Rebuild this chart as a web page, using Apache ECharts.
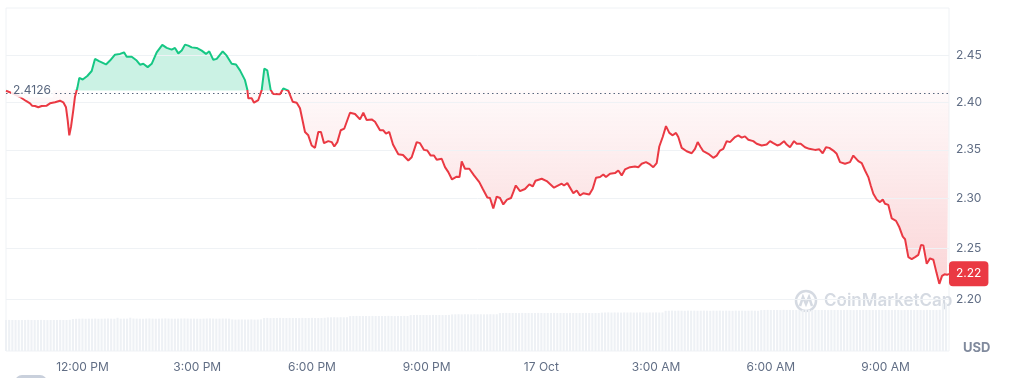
<!DOCTYPE html>
<html><head><meta charset="utf-8">
<script src="https://cdn.jsdelivr.net/npm/echarts@6.0.0/dist/echarts.min.js"></script>
<style>html,body{margin:0;padding:0;background:#fff}#c{width:1010px;height:378px}</style>
</head><body><div id="c"></div>
<script>
// ---- data ----
const xTickHours = [12, 15, 18, 21, 24, 27, 30, 33];
const xTickLabels = ['12:00 PM', '3:00 PM', '6:00 PM', '9:00 PM', '17 Oct', '3:00 AM', '6:00 AM', '9:00 AM'];
const yTicks = [2.20, 2.25, 2.30, 2.35, 2.40, 2.45];
const basePrice = 2.4126;
// hours since 16 Oct 00:00
const priceTimes = [10.000,10.157,10.366,10.523,10.628,10.680,10.758,10.845,10.934,11.064,11.151,11.281,11.412,11.498,11.569,11.613,11.655,11.700,11.760,11.804,11.865,11.917,12.006,12.126,12.241,12.327,12.432,12.615,12.720,12.850,12.981,13.086,13.156,13.287,13.418,13.504,13.590,13.705,13.810,13.941,14.087,14.202,14.333,14.419,14.506,14.595,14.681,14.767,14.856,14.987,15.118,15.230,15.316,15.421,15.510,15.667,15.771,15.902,16.015,16.119,16.250,16.310,16.336,16.425,16.485,16.598,16.687,16.755,16.833,16.922,16.990,17.165,17.252,17.382,17.497,17.602,17.688,17.819,17.905,17.994,18.080,18.167,18.237,18.316,18.428,18.517,18.585,18.664,18.753,18.847,18.996,19.127,19.257,19.344,19.432,19.563,19.650,19.780,19.867,19.937,20.023,20.120,20.259,20.382,20.520,20.609,20.740,20.826,20.931,21.017,21.106,21.192,21.263,21.394,21.480,21.567,21.663,21.786,21.859,21.917,22.003,22.116,22.239,22.377,22.466,22.587,22.657,22.743,22.832,22.919,23.005,23.102,23.206,23.266,23.332,23.442,23.572,23.685,23.774,23.847,24.009,24.140,24.331,24.443,24.532,24.592,24.679,24.836,24.925,25.010,25.097,25.254,25.343,25.429,25.534,25.620,25.690,25.795,25.926,26.012,26.101,26.187,26.318,26.449,26.535,26.624,26.736,26.841,26.927,27.016,27.084,27.173,27.259,27.346,27.434,27.521,27.581,27.670,27.800,27.931,28.018,28.088,28.167,28.235,28.366,28.496,28.585,28.672,28.758,28.847,28.933,29.064,29.150,29.239,29.325,29.412,29.542,29.631,29.762,29.893,29.979,30.065,30.170,30.241,30.345,30.416,30.502,30.607,30.677,30.782,30.894,31.007,31.156,31.268,31.357,31.443,31.530,31.634,31.723,31.810,31.941,32.071,32.158,32.289,32.378,32.464,32.550,32.613,32.681,32.770,32.856,32.927,32.987,33.074,33.163,33.275,33.362,33.451,33.511,33.597,33.686,33.772,33.859,33.929,33.989,34.078,34.164,34.251,34.334,34.407,34.478,34.543,34.609,34.660];
const prices = [2.4123,2.4098,2.4056,2.4014,2.3989,2.3964,2.3961,2.3947,2.3961,2.3964,2.3989,2.4000,2.4017,2.4000,2.3947,2.3812,2.3652,2.3740,2.3918,2.4059,2.4151,2.4260,2.4243,2.4281,2.4334,2.4465,2.4440,2.4405,2.4447,2.4511,2.4519,2.4536,2.4489,2.4489,2.4447,2.4402,2.4412,2.4376,2.4412,2.4536,2.4617,2.4584,2.4565,2.4584,2.4525,2.4555,2.4620,2.4609,2.4590,2.4584,2.4555,2.4519,2.4547,2.4455,2.4465,2.4547,2.4500,2.4412,2.4405,2.4341,2.4236,2.4137,2.4042,2.4042,2.3996,2.4024,2.4130,2.4359,2.4341,2.4130,2.4088,2.4085,2.4148,2.4123,2.4006,2.3996,2.3936,2.3687,2.3652,2.3546,2.3521,2.3687,2.3687,2.3570,2.3591,2.3581,2.3535,2.3581,2.3705,2.3723,2.3889,2.3876,2.3819,2.3889,2.3812,2.3819,2.3794,2.3705,2.3705,2.3670,2.3687,2.3556,2.3455,2.3447,2.3390,2.3424,2.3581,2.3570,2.3500,2.3493,2.3441,2.3441,2.3397,2.3408,2.3321,2.3270,2.3195,2.3223,2.3219,2.3380,2.3305,2.3305,2.3236,2.3167,2.3099,2.3010,2.3005,2.2898,2.3020,2.3005,2.2940,2.2988,2.3005,2.3065,2.3133,2.3075,2.3097,2.3144,2.3123,2.3182,2.3202,2.3178,2.3110,2.3133,2.3151,2.3133,2.3157,2.3054,2.3082,2.3031,2.3054,2.3041,2.3099,2.3212,2.3219,2.3246,2.3219,2.3254,2.3260,2.3287,2.3236,2.3298,2.3321,2.3328,2.3321,2.3356,2.3373,2.3349,2.3321,2.3362,2.3535,2.3634,2.3748,2.3677,2.3652,2.3677,2.3634,2.3521,2.3486,2.3465,2.3511,2.3581,2.3528,2.3486,2.3459,2.3418,2.3441,2.3493,2.3511,2.3591,2.3581,2.3634,2.3652,2.3628,2.3641,2.3606,2.3591,2.3564,2.3546,2.3556,2.3591,2.3570,2.3546,2.3556,2.3591,2.3556,2.3528,2.3591,2.3564,2.3564,2.3528,2.3511,2.3500,2.3506,2.3465,2.3528,2.3521,2.3493,2.3459,2.3373,2.3356,2.3373,2.3441,2.3383,2.3362,2.3287,2.3219,2.3133,2.3048,2.2990,2.2963,2.2990,2.2947,2.2935,2.2798,2.2774,2.2709,2.2615,2.2589,2.2411,2.2392,2.2411,2.2434,2.2533,2.2528,2.2345,2.2399,2.2385,2.2256,2.2148,2.2227,2.2242,2.2237,2.2247];
const volStartHour = 10;
const volStepHours = 5 / 60;
const volumes = [620,622,621,619,618,620,621,623,620,619,620,622,620,618,621,621,620,622,620,619,624,
640,644,646,648,645,647,646,649,645,646,648,650,647,645,664,646,648,647,666,650,648,646,645,649,651,648,646,647,650,652,649,647,646,648,650,651,649,647,648,646,645,648,650,652,649,647,648,650,649,647,
632,628,630,631,629,630,632,628,630,633,
660,662,658,661,660,663,659,660,662,661,660,658,662,661,660,663,660,659,661,664,
672,674,675,673,676,674,675,
698,700,702,699,701,700,698,702,700,701,699,700,703,700,698,701,700,702,699,
718,720,722,719,721,720,718,722,720,721,719,720,722,
732,734,736,733,735,734,732,736,734,735,733,734,736,734,735,
758,760,762,759,761,760,758,762,760,761,759,760,762,760,758,761,760,762,759,761,760,758,762,760,761,759,760,762,760,758,761,760,
768,770,772,769,771,770,768,772,770,771,769,770,772,770,768,771,770,772,769,771,
804,806,808,805,807,806,804,808,806,807,805,806,808,806,804,807,806,808,805,807,806,804,808,806,807,805,806,808,806,804,
818,820,822,819,821,820,818,822,820,821,819,820,822,820,818,821,820,822,819,821,820,818,822,820,821,819,820,822,820,818,821,820,822,819,821,820,818,822,820,821,819,820,822,820,818,821,820,822,819,821,820,818,822,820,821,819,824,
950,965];

// ---- chart ----
const red = '#ea3943', green = '#16c784';
const font = 'Inter, "Noto Sans", sans-serif';
const priceData = priceTimes.map((t, i) => [t, prices[i]]);
const upData = priceTimes.map((t, i) => [t, Math.max(prices[i], basePrice)]);
const downData = priceTimes.map((t, i) => [t, Math.min(prices[i], basePrice)]);
const volData = volumes.map((v, i) => [volStartHour + i * volStepHours, v]);
const lastPrice = prices[prices.length - 1];
const xMin = 10, xMax = 34.66;
const yMin = 2.15, yMax = 2.5022;

const logAxis = {
  type: 'log', logBase: 10, gridIndex: 0, min: yMin, max: yMax,
  axisLine: { show: false }, axisTick: { show: false },
  splitLine: { show: false }, minorTick: { show: false }, minorSplitLine: { show: false }
};

const chart = echarts.init(document.getElementById('c'));
chart.setOption({
  animation: false,
  grid: [
    { left: 6, right: 61, top: 8, bottom: 27, show: true, borderColor: '#eff2f5', borderWidth: 1 },
    { left: 6, right: 61, top: 251, bottom: 27 }
  ],
  xAxis: [
    { type: 'value', gridIndex: 0, min: xMin, max: xMax, show: false },
    { type: 'value', gridIndex: 1, min: xMin, max: xMax,
      axisLine: { show: false }, axisTick: { show: false }, splitLine: { show: false },
      axisLabel: {
        customValues: xTickHours,
        formatter: v => { const k = xTickHours.findIndex(h => Math.abs(h - v) < 1e-6); return k >= 0 ? xTickLabels[k] : ''; },
        color: '#616e85', fontSize: 12, fontFamily: font, margin: 10
      } }
  ],
  yAxis: [
    Object.assign({}, logAxis, { position: 'right',
      axisLabel: { customValues: yTicks, formatter: v => Number(v).toFixed(2), color: '#616e85', fontSize: 12, fontFamily: font, margin: 7 } }),
    Object.assign({}, logAxis, { position: 'right', z: 10,
      axisLabel: { customValues: [lastPrice], formatter: v => Number(v).toFixed(2), color: '#fff', backgroundColor: red,
        borderRadius: 4, padding: [7, 7, 6, 7], fontSize: 12, fontFamily: font, margin: 0 } }),
    Object.assign({}, logAxis, { position: 'left', z: 10,
      axisLabel: { inside: true, customValues: [basePrice], formatter: v => Number(v).toFixed(4), color: '#58667e',
        backgroundColor: 'rgba(255,255,255,0.85)', padding: [1, 2], fontSize: 12, fontFamily: font, margin: 5 } }),
    { type: 'value', gridIndex: 1, min: 0, max: 2000, show: false }
  ],
  visualMap: {
    type: 'piecewise', show: false, seriesIndex: 3, dimension: 1,
    pieces: [{ gt: basePrice, lte: 3, color: green }, { gte: 2, lte: basePrice, color: red }],
    outOfRange: { color: red }
  },
  series: [
    { type: 'bar', xAxisIndex: 1, yAxisIndex: 3, data: volData, barWidth: 2.1, silent: true,
      itemStyle: { color: '#eef1f5' } },
    { type: 'line', xAxisIndex: 0, yAxisIndex: 0, data: upData, symbol: 'none', showSymbol: false, silent: true,
      lineStyle: { width: 0 }, areaStyle: { origin: basePrice, color: 'rgba(22,199,132,0.32)' },
      markLine: { silent: true, symbol: ['none', 'none'], label: { show: false },
        lineStyle: { color: '#eff2f5', width: 1, type: 'solid' }, data: yTicks.map(v => ({ yAxis: v })) } },
    { type: 'line', xAxisIndex: 0, yAxisIndex: 0, data: downData, symbol: 'none', showSymbol: false, silent: true,
      lineStyle: { width: 0 },
      areaStyle: { origin: basePrice, color: { type: 'linear', x: 0, y: 0, x2: 0, y2: 1,
        colorStops: [{ offset: 0, color: 'rgba(234,57,67,0.04)' }, { offset: 1, color: 'rgba(234,57,67,0.30)' }] } } },
    { type: 'line', xAxisIndex: 0, yAxisIndex: 0, data: priceData, symbol: 'none', showSymbol: false, z: 5,
      lineStyle: { width: 2 },
      markLine: { silent: true, symbol: ['none', 'none'], label: { show: false },
        lineStyle: { color: '#58667e', width: 1, type: [1.5, 3] }, data: [{ yAxis: basePrice }] } }
  ],
  graphic: [
    { type: 'circle', shape: { cx: 806, cy: 301, r: 10 }, style: { fill: 'none', stroke: '#d5dae2', lineWidth: 2.5 }, silent: true },
    { type: 'polyline', shape: { points: [[800, 306], [803, 297], [806, 304], [809, 297], [812, 306]] },
      style: { fill: 'none', stroke: '#d5dae2', lineWidth: 2.5 }, silent: true },
    { type: 'text', x: 824, y: 301, silent: true,
      style: { text: 'CoinMarketCap', font: '600 17px Inter, sans-serif', fill: '#d5dae2', verticalAlign: 'middle' } },
    { type: 'text', x: 963, y: 348, silent: true,
      style: { text: 'USD', font: 'bold 13px Inter, sans-serif', fill: '#808a9d', verticalAlign: 'middle' } },
    { type: 'rect', shape: { x: 15, y: 375, width: 32, height: 14, r: 7 }, style: { fill: '#c9d0dc' }, silent: true }
  ]
});
</script>
</body></html>
